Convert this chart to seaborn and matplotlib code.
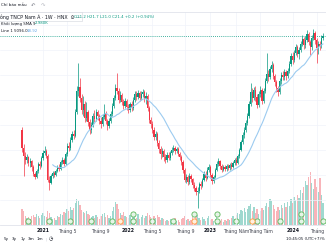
import matplotlib
matplotlib.use("Agg")
import matplotlib.pyplot as plt
import seaborn as sns
import numpy as np
import pandas as pd

# ---------------- data (weekly candles, price in thousand VND) ----------------
opens = [12.0, 10.2, 9.4, 9.0, 9.3, 8.7, 8.9, 8.3, 7.6, 7.3,
         7.9, 8.6, 8.4, 9.2, 9.7, 9.9, 9.4, 7.0, 6.7, 7.4,
         7.7, 7.5, 7.9, 8.3, 8.1, 8.8, 9.0, 8.6, 9.6, 10.4,
         10.2, 11.0, 11.6, 11.4, 13.8, 15.9, 16.3, 15.2, 14.0, 14.6,
         13.2, 13.8, 12.8, 12.0, 12.5, 13.4, 13.1, 13.8, 13.4, 12.9,
         12.6, 13.3, 13.7, 12.9, 12.4, 12.9, 13.6, 14.4, 15.2, 16.2,
         15.9, 15.0, 15.5, 14.8, 14.4, 14.9, 14.3, 14.0, 14.6, 14.2,
         15.0, 15.6, 15.3, 15.7, 15.2, 15.6, 15.8, 15.1, 15.4, 14.2,
         13.0, 12.6, 12.0, 11.3, 11.6, 10.7, 10.1, 9.6, 9.9, 9.3,
         9.0, 9.5, 9.2, 9.7, 10.0, 10.2, 9.9, 10.1, 9.6, 9.3,
         8.8, 8.0, 7.0, 7.3, 6.8, 7.4, 7.1, 6.5, 6.2, 5.8,
         5.9, 6.6, 6.4, 7.0, 7.6, 7.2, 8.0, 8.3, 7.5, 6.9,
         7.3, 8.0, 8.6, 8.9, 8.4, 8.0, 8.3, 8.1, 8.4, 8.2,
         8.5, 8.3, 8.7, 9.0, 8.7, 9.4, 10.0, 10.8, 11.5, 12.0,
         12.7, 13.4, 14.6, 15.8, 15.2, 16.0, 15.3, 14.5, 15.6, 16.0,
         14.9, 15.9, 16.9, 17.6, 17.3, 18.1, 18.5, 17.4, 16.8, 16.2,
         15.8, 16.9, 17.5, 17.3, 17.8, 17.4, 17.9, 18.6, 19.4, 19.0,
         19.7, 20.3, 19.6, 20.0, 20.6, 21.1, 20.5, 21.0, 21.6, 20.8,
         20.3, 21.2, 21.7, 21.0, 20.2, 20.6, 20.4, 21.2]
closes = [10.2, 9.4, 9.0, 9.3, 8.7, 8.9, 8.3, 7.6, 7.3, 7.9,
          8.6, 8.4, 9.2, 9.7, 9.9, 9.4, 7.0, 6.7, 7.4, 7.7,
          7.5, 7.9, 8.3, 8.1, 8.8, 9.0, 8.6, 9.6, 10.4, 10.2,
          11.0, 11.6, 11.4, 13.8, 15.9, 16.3, 15.2, 14.0, 14.6, 13.2,
          13.8, 12.8, 12.0, 12.5, 13.4, 13.1, 13.8, 13.4, 12.9, 12.6,
          13.3, 13.7, 12.9, 12.4, 12.9, 13.6, 14.4, 15.2, 16.2, 15.9,
          15.0, 15.5, 14.8, 14.4, 14.9, 14.3, 14.0, 14.6, 14.2, 15.0,
          15.6, 15.3, 15.7, 15.2, 15.6, 15.8, 15.1, 15.4, 14.2, 13.0,
          12.6, 12.0, 11.3, 11.6, 10.7, 10.1, 9.6, 9.9, 9.3, 9.0,
          9.5, 9.2, 9.7, 10.0, 10.2, 9.9, 10.1, 9.6, 9.3, 8.8,
          8.0, 7.0, 7.3, 6.8, 7.4, 7.1, 6.5, 6.2, 5.8, 5.9,
          6.6, 6.4, 7.0, 7.6, 7.2, 8.0, 8.3, 7.5, 6.9, 7.3,
          8.0, 8.6, 8.9, 8.4, 8.0, 8.3, 8.1, 8.4, 8.2, 8.5,
          8.3, 8.7, 9.0, 8.7, 9.4, 10.0, 10.8, 11.5, 12.0, 12.7,
          13.4, 14.6, 15.8, 15.2, 16.0, 15.3, 14.5, 15.6, 16.0, 14.9,
          15.9, 16.9, 17.6, 17.3, 18.1, 18.5, 17.4, 16.8, 16.2, 15.8,
          16.9, 17.5, 17.3, 17.8, 17.4, 17.9, 18.6, 19.4, 19.0, 19.7,
          20.3, 19.6, 20.0, 20.6, 21.1, 20.5, 21.0, 21.6, 20.8, 20.3,
          21.2, 21.7, 21.0, 20.2, 20.6, 20.4, 21.2, 21.4]
highs = [12.3, 10.6, 9.8, 9.6, 9.4, 9.2, 9.0, 8.5, 7.8, 8.1,
         8.8, 8.9, 9.4, 10.0, 10.4, 10.1, 9.6, 7.4, 7.6, 7.9,
         7.9, 8.1, 8.5, 8.6, 9.0, 9.3, 9.2, 9.8, 10.7, 10.8,
         11.3, 11.9, 12.0, 14.1, 16.4, 18.7, 17.2, 15.6, 15.4, 14.9,
         14.8, 14.0, 13.1, 12.8, 13.7, 14.0, 14.1, 14.0, 13.6, 13.3,
         13.6, 14.6, 13.9, 13.1, 13.2, 13.9, 14.7, 15.5, 16.6, 17.7,
         16.2, 15.9, 15.7, 15.1, 15.2, 15.1, 14.6, 14.8, 14.9, 15.3,
         15.9, 15.9, 16.0, 15.9, 15.9, 16.1, 16.0, 15.8, 15.6, 14.4,
         13.3, 12.9, 12.3, 11.9, 11.8, 11.0, 10.4, 10.2, 10.1, 9.6,
         9.8, 9.8, 9.9, 10.3, 10.5, 10.4, 10.3, 10.3, 9.8, 9.5,
         9.0, 8.2, 7.6, 7.5, 7.7, 7.6, 7.2, 6.8, 6.4, 6.3,
         6.8, 6.9, 7.2, 7.9, 7.9, 8.3, 8.6, 8.5, 7.7, 7.5,
         8.2, 8.9, 9.2, 9.0, 8.6, 8.5, 8.5, 8.6, 8.6, 8.7,
         8.8, 8.9, 9.2, 9.3, 9.6, 10.2, 11.0, 11.8, 12.3, 13.0,
         13.7, 14.9, 16.7, 16.2, 16.3, 16.4, 15.6, 15.9, 16.4, 16.2,
         16.2, 17.2, 19.7, 18.0, 18.4, 18.9, 18.7, 17.6, 17.0, 16.4,
         17.2, 17.8, 17.9, 18.1, 18.0, 18.2, 18.9, 19.7, 19.8, 20.0,
         20.6, 20.5, 20.3, 20.9, 21.5, 21.3, 21.4, 22.0, 21.8, 21.0,
         21.5, 22.1, 21.9, 21.2, 20.9, 20.9, 21.5, 21.7]
lows = [9.8, 7.4, 8.6, 8.7, 8.4, 8.3, 7.9, 7.4, 7.1, 7.2,
        7.7, 8.1, 8.3, 9.0, 9.5, 9.2, 6.8, 6.0, 6.6, 7.2,
        7.3, 7.4, 7.8, 7.9, 8.0, 8.6, 8.4, 8.5, 9.4, 9.9,
        10.0, 10.8, 11.1, 11.3, 13.6, 15.4, 14.8, 13.6, 13.4, 12.8,
        12.9, 12.4, 11.6, 11.7, 12.3, 12.8, 12.9, 13.0, 12.6, 12.2,
        12.4, 13.1, 12.6, 12.0, 12.2, 12.7, 13.4, 14.2, 15.0, 15.6,
        14.7, 14.8, 14.5, 14.1, 14.2, 14.0, 13.7, 13.8, 13.9, 14.0,
        14.8, 15.0, 15.1, 14.9, 15.0, 15.3, 14.8, 14.6, 13.9, 12.7,
        12.2, 11.7, 11.0, 11.0, 10.4, 9.7, 9.1, 9.3, 8.9, 8.7,
        8.8, 9.0, 9.0, 9.5, 9.8, 9.6, 9.7, 9.4, 9.0, 8.5,
        7.7, 6.8, 6.7, 6.5, 6.6, 6.8, 6.2, 5.9, 5.5, 4.2,
        5.7, 6.1, 6.3, 6.9, 6.9, 7.1, 7.8, 7.2, 6.6, 6.7,
        7.2, 7.9, 8.4, 8.1, 7.8, 7.9, 7.9, 7.9, 8.0, 8.0,
        8.1, 8.2, 8.5, 8.5, 8.6, 9.2, 9.9, 10.6, 11.2, 11.8,
        12.5, 13.2, 14.4, 14.8, 15.0, 14.9, 14.2, 14.3, 15.3, 14.6,
        14.7, 15.7, 16.7, 16.9, 17.1, 17.8, 17.1, 16.4, 15.8, 15.4,
        15.6, 16.6, 17.0, 17.0, 17.0, 17.2, 17.7, 18.4, 18.6, 18.8,
        19.5, 19.3, 19.1, 19.8, 20.4, 20.1, 20.2, 20.8, 20.5, 19.5,
        20.0, 21.0, 20.6, 18.7, 19.6, 20.0, 20.2, 21.0]
volumes = [320, 280, 180, 140, 160, 120, 180, 200, 160, 220,
           180, 140, 200, 240, 180, 160, 280, 240, 160, 120,
           140, 100, 180, 160, 220, 200, 260, 240, 320, 280,
           360, 300, 340, 440, 520, 480, 400, 300, 260, 240,
           280, 220, 200, 160, 180, 140, 200, 160, 120, 180,
           220, 240, 160, 200, 140, 180, 280, 360, 460, 420,
           320, 240, 200, 260, 180, 160, 140, 200, 120, 160,
           180, 140, 220, 120, 160, 200, 140, 180, 240, 200,
           160, 120, 180, 140, 200, 160, 100, 140, 120, 80,
           100, 80, 120, 60, 100, 140, 80, 100, 60, 120,
           140, 180, 100, 120, 80, 100, 160, 120, 180, 200,
           140, 100, 160, 120, 80, 140, 180, 100, 120, 80,
           120, 160, 100, 80, 120, 60, 100, 80, 120, 100,
           140, 180, 120, 200, 240, 220, 300, 280, 340, 260,
           320, 380, 420, 280, 360, 240, 320, 220, 280, 340,
           300, 380, 440, 360, 520, 480, 400, 320, 280, 360,
           300, 400, 340, 440, 360, 460, 380, 520, 440, 560,
           500, 600, 540, 700, 640, 760, 880, 800, 960, 1060,
           840, 720, 920, 760, 660, 940, 600, 440]

# x-axis labels at their week index
tick_weeks = [13, 28, 48.4, 65.8, 80.7, 101.2, 116.8, 133.0, 148.0, 168.3, 183.5]
tick_labels = ["2021", "Tháng 5", "Tháng 9", "2022", "Tháng 5", "Tháng 9",
               "2023", "Tháng Năm", "Tháng Tám", "2024", "Tháng"]
bold_labels = {"2021", "2022", "2023", "2024"}

# event markers (week index)
green_lower = [4, 17, 30, 43, 56, 69, 81, 94, 121, 133, 146, 160, 173, 187]
green_upper = [69, 107, 121, 173]
orange_lower = [61, 107, 143]

# ---------------- figure ----------------
sns.set_theme(style="white")
plt.rcParams['font.family'] = ['DejaVu Sans', 'Noto Sans CJK SC']

UP = "#089981"
DOWN = "#F23645"
W, H = 326, 245

df = pd.DataFrame({"week": np.arange(len(closes)), "open": opens, "high": highs,
                   "low": lows, "close": closes, "volume": volumes})
df["ma"] = df["close"].rolling(20).mean()
up = df["close"] >= df["open"]

fig = plt.figure(figsize=(W / 100, H / 100), dpi=100, facecolor="white")
ax = fig.add_axes([0, 1 - 225 / H, 1, 213 / H])
ax2 = ax.twinx()
ax.set_zorder(ax2.get_zorder() + 1)
ax.patch.set_visible(False)
ax2.set_facecolor("white")

# volume
vol_colors = np.where(up, "#9fd8cf", "#f8b4b9")
ax2.bar(df["week"], df["volume"], width=0.8, color=vol_colors, linewidth=0)
ax2.set_ylim(0, 4260)
ax2.scatter(green_lower, [85] * len(green_lower), s=14, facecolor="#e6f4e7",
            edgecolor="#5cb85c", linewidth=0.6, zorder=5)
ax2.scatter(green_upper, [230] * len(green_upper), s=14, facecolor="#e6f4e7",
            edgecolor="#5cb85c", linewidth=0.6, zorder=5)
ax2.scatter(orange_lower, [85] * len(orange_lower), s=14, facecolor="#fff0e0",
            edgecolor="#ff9a3c", linewidth=0.6, zorder=6)
ax2.set_yticks([])
for s in ax2.spines.values():
    s.set_visible(False)

# candles
cols = np.where(up, UP, DOWN)
ax.vlines(df["week"], df["low"], df["high"], colors=cols, linewidth=0.5, zorder=3)
body_bottom = np.minimum(df["open"], df["close"])
body_h = np.maximum(np.abs(df["close"] - df["open"]), 0.06)
ax.bar(df["week"], body_h, bottom=body_bottom, width=0.75, color=cols,
       linewidth=0, zorder=4)

# moving average
sns.lineplot(data=df, x="week", y="ma", ax=ax, color="#9ccbf0", linewidth=0.8,
             zorder=5, legend=False)

# last price line
ax.axhline(closes[-1], color=UP, linewidth=0.6, linestyle=(0, (1, 1.5)), zorder=2)

ax.set_xlim(-13.7, 188.8)
ax.set_ylim(2.5, 23.8)
ax.set_yticks([5, 7.5, 10, 12.5, 15, 17.5, 20, 22.5])
ax.set_yticklabels([])
ax.tick_params(axis="y", length=0)
ax.set_xticks(tick_weeks)
ax.set_xticklabels(tick_labels)
ax.tick_params(axis="x", length=0, pad=2.5, labelsize=3.3, labelcolor="#434651")
for t in ax.get_xticklabels():
    if t.get_text() in bold_labels:
        t.set_fontweight("bold")
        t.set_color("#131722")
ax.grid(True, color="#f0f3fa", linewidth=0.5)
ax2.grid(False)
ax.set_xlabel("")
ax.set_ylabel("")
for k, s in ax.spines.items():
    s.set_visible(k in ("top", "bottom"))
    s.set_color("#e0e3eb")
    s.set_linewidth(0.6)

# ---------------- texts ----------------
def px(x, y):
    return x / W, 1 - y / H

fig.text(*px(1, 5.5), "Chỉ báo mẫu", fontsize=2.9, color="#131722", va="center")
fig.text(*px(31, 5.5), "↶", fontsize=3.8, color="#787b86", va="center")
fig.text(*px(41, 5.5), "↷", fontsize=3.8, color="#b2b5be", va="center")

fig.text(*px(0, 16.5), "ông TNCP Nam Á · 1W · HNX  ⊙ ···", fontsize=3.4,
         color="#131722", va="center",
         bbox=dict(boxstyle="square,pad=0.25", facecolor="white",
                   edgecolor="#d1d4dc", linewidth=0.4))
fig.text(*px(74, 16.5), "O21.2 H21.7 L21.0 C21.4 +0.2 (+0.94%)", fontsize=2.8,
         color=UP, va="center")
fig.text(*px(1, 23.5), "Khối lượng SMA 9", fontsize=2.8, color="#131722", va="center")
fig.text(*px(35, 23.5), "2.980K", fontsize=2.8, color=UP, va="center")
fig.text(*px(1, 30.5), "Line 1 5096.0", fontsize=2.8, color="#131722", va="center")
fig.text(*px(27, 30.5), "18.92", fontsize=2.8, color="#64a8e8", va="center")

for x, lab in [(4, "5y"), (12, "3y"), (20.5, "1y"), (28, "3m"), (36.5, "1m")]:
    fig.text(*px(x, 239), lab, fontsize=3.0, color="#131722", va="center")
fig.text(*px(45, 239), "|", fontsize=3.2, color="#d1d4dc", va="center")
fig.text(*px(49, 239), "◷", fontsize=3.6, color="#131722", va="center")
fig.text(*px(286, 239), "10:45:05 (UTC+7)", fontsize=2.8, color="#131722", va="center")
fig.text(*px(321, 239), "%", fontsize=2.8, color="#131722", va="center")

fig.savefig("out.png", dpi=100, facecolor="white")
